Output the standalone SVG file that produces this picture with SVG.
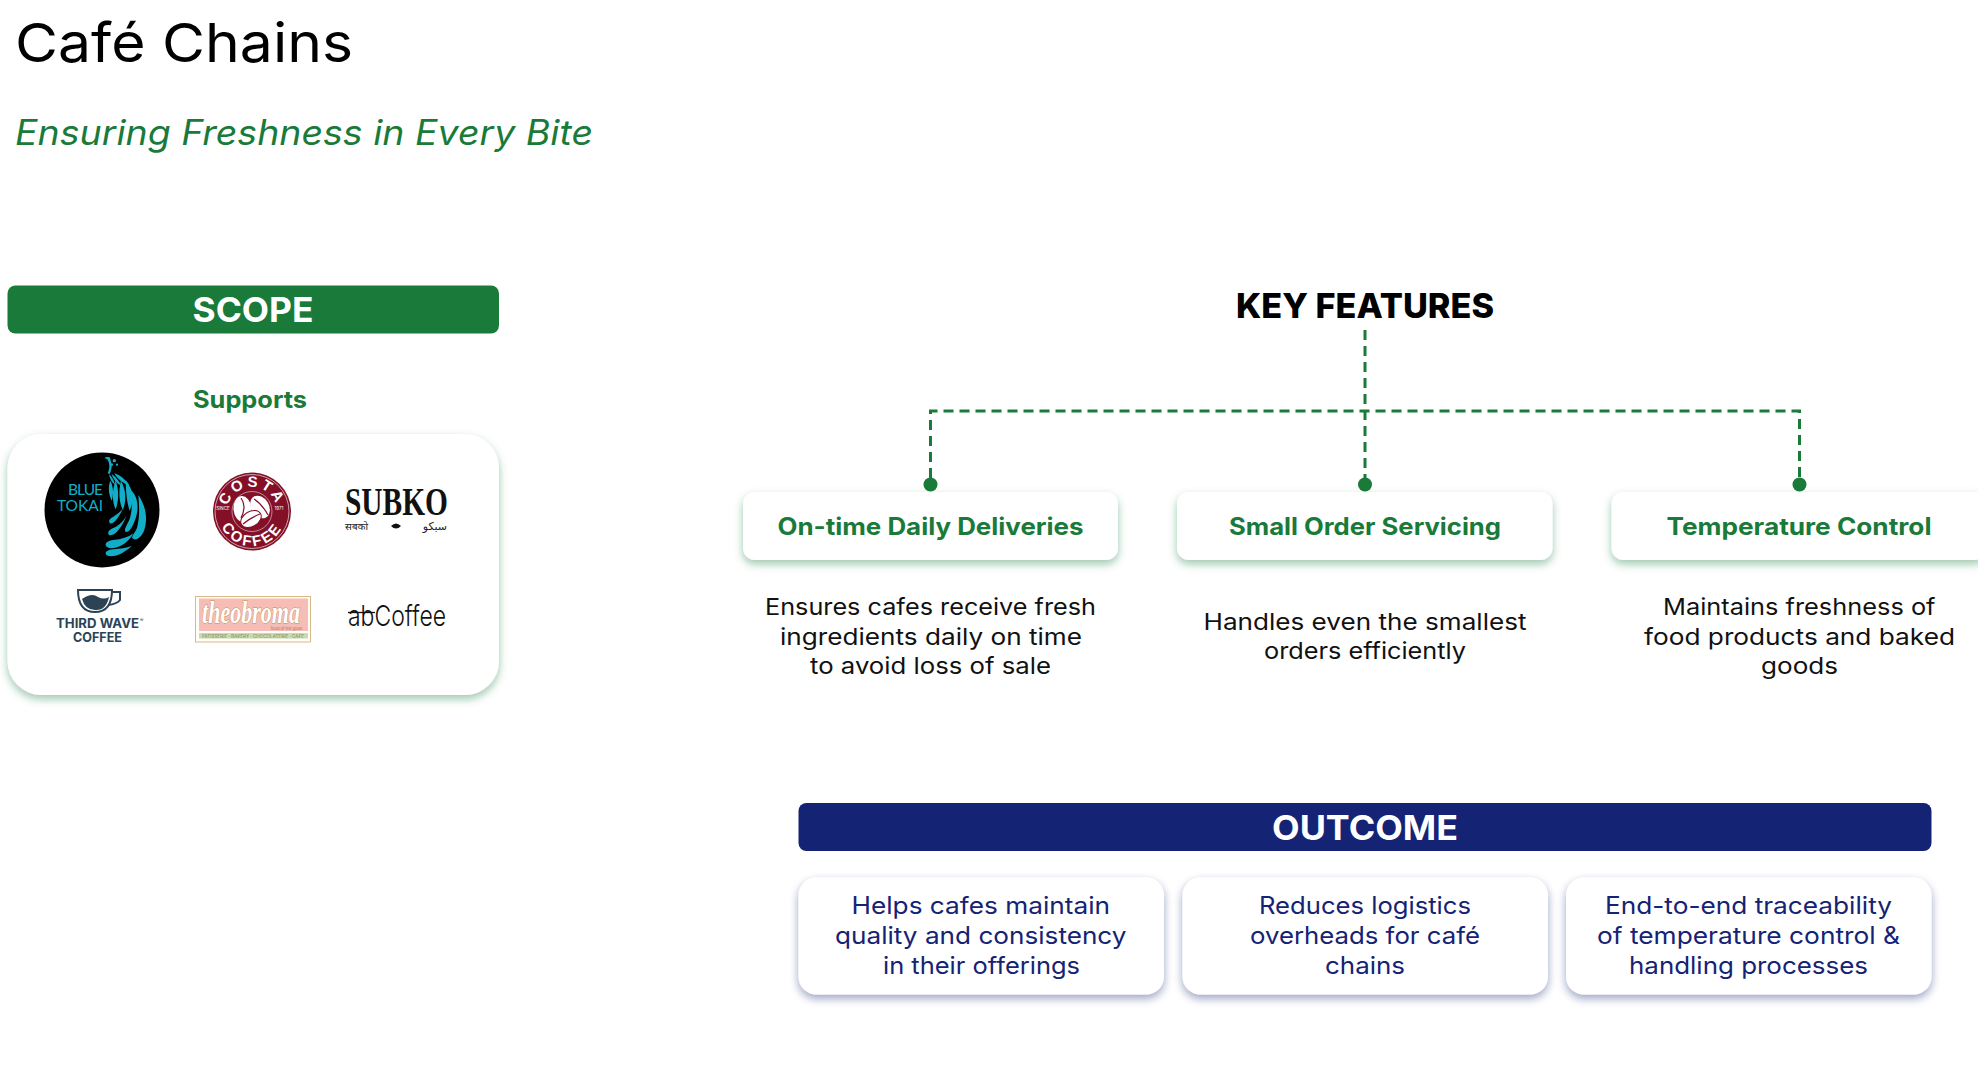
<svg xmlns="http://www.w3.org/2000/svg" width="1978" height="1080" viewBox="0 0 1978 1080">
<style>
text{font-family:"Inter","Noto Sans","Liberation Sans",sans-serif}
.head{font-size:34px;font-weight:700;fill:#fff}
.feat{font-size:24px;font-weight:700;fill:#197a3a}
.desc{font-size:23px;font-weight:400;fill:#111}
.out{font-size:24px;font-weight:400;fill:#152374}
.dash{fill:none;stroke:#197a3a;stroke-width:3;stroke-dasharray:10 6}
.dot{fill:#197a3a}
.gcard{fill:#fff;filter:url(#gs)}
.ncard{fill:#fff;filter:url(#ns)}
.teal{fill:#12aec8}
.seam{fill:none;stroke:#841028;stroke-width:1.200}
</style>
<defs>
<filter id="gs" x="-15%" y="-25%" width="130%" height="160%"><feDropShadow dx="0" dy="4" stdDeviation="4" flood-color="#197a3a" flood-opacity=".42"/></filter>
<filter id="ns" x="-15%" y="-25%" width="130%" height="160%"><feDropShadow dx="0" dy="4" stdDeviation="4" flood-color="#152374" flood-opacity=".42"/></filter>
<path id="costaTop" d="M227 512A25 25 0 0 1 277 512"/>
<path id="costaBot" d="M218 512A34 34 0 0 0 286 512"/>
</defs>
<rect width="1978" height="1080" fill="#fff"/>

<g id="title">
<text x="15" y="62" font-size="54" fill="#000" textLength="338" lengthAdjust="spacingAndGlyphs">Café Chains</text>
<text x="15" y="145" font-size="35" font-style="italic" fill="#197a3a" textLength="578" lengthAdjust="spacingAndGlyphs">Ensuring Freshness in Every Bite</text>
</g>

<g id="scope">
<rect x="7.500" y="285.500" width="491.500" height="48" rx="8" fill="#197a3a"/>
<text class="head" x="192.500" y="322" textLength="121" lengthAdjust="spacingAndGlyphs">SCOPE</text>
<text x="193" y="408" font-size="24" font-weight="700" fill="#197a3a" textLength="114" lengthAdjust="spacingAndGlyphs">Supports</text>
</g>

<g id="logos">
<rect class="gcard" x="7.500" y="434" width="491.500" height="261" rx="34"/>
<g id="logo-blue-tokai">
<circle cx="102" cy="510" r="57.500" fill="#000"/>
<text class="teal" x="68" y="495" font-size="15.500" style="font-family:'Lato',sans-serif" textLength="35">BLUE</text>
<text class="teal" x="57" y="511" font-size="15.500" style="font-family:'Lato',sans-serif" textLength="46">TOKAI</text>
<g transform="translate(95 450) scale(.3333)" class="teal">
<path d="M130 135C150 165 160 200 148 240C140 262 122 275 112 265C108 258 125 245 128 225C135 190 132 165 130 135Z"/>
<path d="M108 120C128 140 133 170 122 205C115 228 102 250 92 245C84 238 100 222 106 200C112 175 112 150 108 120Z"/>
<path d="M115 250C100 280 60 305 35 290C25 280 40 272 55 270C80 268 100 262 115 250Z"/>
<path d="M110 288C90 308 55 326 35 316C25 306 40 299 55 298C75 296 95 294 110 288Z"/>
<path d="M95 195C85 225 60 262 42 255C35 245 45 238 60 232C72 226 88 212 95 195Z"/>
<path d="M85 172C75 198 55 225 45 220C38 212 45 205 55 200C68 192 78 185 85 172Z"/>
<path d="M62 92C72 120 72 150 62 178C52 160 50 120 62 92Z"/>
<path d="M78 92C94 122 94 150 84 180C72 160 70 122 78 92Z"/>
<path d="M92 90C116 120 118 150 104 182C96 160 92 122 92 90Z"/>
<path d="M46 92C56 112 56 132 50 152C42 135 38 112 46 92Z"/>
<path d="M58 70C75 75 92 90 102 105C85 102 68 88 58 70Z"/>
<path d="M50 72C62 80 72 92 78 106C66 102 54 88 50 72Z"/>
<path d="M42 72C50 80 58 92 60 104C50 98 44 86 42 72Z"/>
<path d="M38 70C44 56 46 44 36 24L44 22C52 44 52 56 44 72Z"/>
<path d="M28 24C34 20 40 20 46 24L42 30Z"/>
<circle cx="58" cy="32" r="5"/><circle cx="50" cy="44" r="4"/><circle cx="66" cy="44" r="3.500"/>
</g>
</g>
<g id="logo-costa">
<circle cx="252" cy="511.500" r="39" fill="#841028"/>
<circle cx="252" cy="511.500" r="37" fill="none" stroke="#fff" stroke-width=".6"/>
<circle cx="252" cy="511.500" r="20" fill="none" stroke="#fff" stroke-width=".5"/>
<g fill="#fff">
<ellipse cx="242.500" cy="509" rx="9" ry="13" transform="rotate(-5 242.500 509)"/>
<ellipse cx="260" cy="507" rx="9" ry="12" transform="rotate(-30 260 507)"/>
<ellipse cx="251" cy="519" rx="11" ry="7.500" transform="rotate(-30 251 519)" stroke="#841028" stroke-width="1"/>
</g>
<path class="seam" d="M241 498Q247 506 241 518"/>
<path class="seam" d="M254 499Q262 504 268 515"/>
<path class="seam" d="M243 524Q250 518 260 514"/>
<text font-size="15" font-weight="700" fill="#fff" style="font-family:'Liberation Sans',sans-serif"><textPath href="#costaTop" startOffset="50%" text-anchor="middle" letter-spacing="3">COSTA</textPath></text>
<text font-size="15" font-weight="700" fill="#fff" style="font-family:'Liberation Sans',sans-serif"><textPath href="#costaBot" startOffset="50%" text-anchor="middle" letter-spacing="2.500">COFFEE</textPath></text>
<text x="223" y="510" font-size="4.500" fill="#fff" text-anchor="middle">SINCE</text>
<text x="279" y="510" font-size="4.500" fill="#fff" text-anchor="middle">1971</text>
</g>
<g id="logo-subko">
<text x="345" y="515" font-size="39" font-weight="700" fill="#111" style="font-family:'Liberation Serif',serif" textLength="103" lengthAdjust="spacingAndGlyphs">SUBKO</text>
<text x="345" y="530" font-size="10" fill="#222" style="font-family:'Noto Sans',sans-serif" textLength="23">सबको</text>
<path d="M391 526Q396 521 401 526Q396 531 391 526Z" fill="#111"/>
<text x="447" y="530" font-size="11" fill="#222" text-anchor="end" style="font-family:'DejaVu Sans',sans-serif">سبکو</text>
</g>
<g id="logo-third-wave">
<path d="M78 590H112Q112 612 95 612Q78 612 78 590Z" fill="#fff" stroke="#2c4356" stroke-width="2"/>
<path d="M112 592H120V600Q117 604 108 605" fill="none" stroke="#2c4356" stroke-width="2"/>
<path d="M82 599Q92 592 98 597Q104 600 109 597Q106 611 95 610Q85 610 82 599Z" fill="#2c4356"/>
<text x="56" y="628" font-size="13" font-weight="700" fill="#2c4356" textLength="83" lengthAdjust="spacingAndGlyphs">THIRD WAVE</text>
<text x="140" y="622" font-size="5" fill="#2c4356">®</text>
<text x="73" y="642" font-size="13" font-weight="700" fill="#2c4356" textLength="49" lengthAdjust="spacingAndGlyphs">COFFEE</text>
</g>
<g id="logo-theobroma">
<rect x="195.500" y="596.500" width="115" height="45.500" fill="#fffdf6" stroke="#d9b98a"/>
<rect x="199" y="598.500" width="109" height="32.500" fill="#f6bdb6"/>
<rect x="199" y="633" width="109" height="5.500" fill="#c5dcb4"/>
<text x="202" y="623" font-size="32" font-style="italic" font-weight="700" fill="#fff" stroke="#b98d58" stroke-width="1" paint-order="stroke" style="font-family:'Liberation Serif',serif" textLength="98" lengthAdjust="spacingAndGlyphs">theobroma</text>
<text x="302" y="630" font-size="4" fill="#a5795a" text-anchor="end">food of the gods</text>
<text x="202" y="637.800" font-size="4.400" fill="#8a8a5a" textLength="102" lengthAdjust="spacingAndGlyphs">PATISSERIE · BAKERY · CHOCOLATERIE · CAFE</text>
</g>
<g id="logo-abcoffee">
<text x="348" y="626" font-size="29" font-weight="300" fill="#111" textLength="98" lengthAdjust="spacingAndGlyphs">abCoffee</text>
<path d="M348 612.500H375" stroke="#111" stroke-width="1.300"/>
</g>
</g>

<text id="key-features" x="1236" y="318" font-size="34" font-weight="800" fill="#000" textLength="258" lengthAdjust="spacingAndGlyphs">KEY FEATURES</text>

<g id="connectors">
<path class="dash" d="M1365 330V478"/>
<path class="dash" d="M930.500 478V411H1799.500V478"/>
<circle class="dot" cx="930.500" cy="484.500" r="7"/>
<circle class="dot" cx="1365" cy="484.500" r="7"/>
<circle class="dot" cx="1799.500" cy="484.500" r="7"/>
</g>

<g id="feature-1">
<rect class="gcard" x="743" y="492" width="375" height="68" rx="12"/>
<text class="feat" x="777.500" y="535" textLength="306" lengthAdjust="spacingAndGlyphs">On-time Daily Deliveries</text>
<text class="desc" x="765" y="615" textLength="331" lengthAdjust="spacingAndGlyphs">Ensures cafes receive fresh</text>
<text class="desc" x="780" y="645" textLength="302" lengthAdjust="spacingAndGlyphs">ingredients daily on time</text>
<text class="desc" x="810" y="674" textLength="241" lengthAdjust="spacingAndGlyphs">to avoid loss of sale</text>
</g>
<g id="feature-2">
<rect class="gcard" x="1177" y="492" width="375.500" height="68" rx="12"/>
<text class="feat" x="1229" y="535" textLength="272" lengthAdjust="spacingAndGlyphs">Small Order Servicing</text>
<text class="desc" x="1203.500" y="630" textLength="323" lengthAdjust="spacingAndGlyphs">Handles even the smallest</text>
<text class="desc" x="1264" y="659" textLength="202" lengthAdjust="spacingAndGlyphs">orders efficiently</text>
</g>
<g id="feature-3">
<rect class="gcard" x="1611.500" y="492" width="375" height="68" rx="12"/>
<text class="feat" x="1666.500" y="535" textLength="265" lengthAdjust="spacingAndGlyphs">Temperature Control</text>
<text class="desc" x="1663" y="615" textLength="272.500" lengthAdjust="spacingAndGlyphs">Maintains freshness of</text>
<text class="desc" x="1644" y="645" textLength="311" lengthAdjust="spacingAndGlyphs">food products and baked</text>
<text class="desc" x="1761" y="674" textLength="77" lengthAdjust="spacingAndGlyphs">goods</text>
</g>

<g id="outcome">
<rect x="798.500" y="803" width="1133" height="48" rx="8" fill="#152374"/>
<text class="head" x="1272" y="840" textLength="186" lengthAdjust="spacingAndGlyphs">OUTCOME</text>
</g>
<g id="outcome-1">
<rect class="ncard" x="798.500" y="877.500" width="365.500" height="117" rx="18"/>
<text class="out" x="851.500" y="914" textLength="258.500" lengthAdjust="spacingAndGlyphs">Helps cafes maintain</text>
<text class="out" x="835" y="944" textLength="291.500" lengthAdjust="spacingAndGlyphs">quality and consistency</text>
<text class="out" x="883" y="974" textLength="197" lengthAdjust="spacingAndGlyphs">in their offerings</text>
</g>
<g id="outcome-2">
<rect class="ncard" x="1182.500" y="877.500" width="365.500" height="117" rx="18"/>
<text class="out" x="1259" y="914" textLength="212" lengthAdjust="spacingAndGlyphs">Reduces logistics</text>
<text class="out" x="1250" y="944" textLength="230" lengthAdjust="spacingAndGlyphs">overheads for café</text>
<text class="out" x="1325" y="974" textLength="80" lengthAdjust="spacingAndGlyphs">chains</text>
</g>
<g id="outcome-3">
<rect class="ncard" x="1566" y="877.500" width="365.500" height="117" rx="18"/>
<text class="out" x="1605" y="914" textLength="287" lengthAdjust="spacingAndGlyphs">End-to-end traceability</text>
<text class="out" x="1597" y="944" textLength="303" lengthAdjust="spacingAndGlyphs">of temperature control &amp;</text>
<text class="out" x="1629" y="974" textLength="239" lengthAdjust="spacingAndGlyphs">handling processes</text>
</g>
</svg>
